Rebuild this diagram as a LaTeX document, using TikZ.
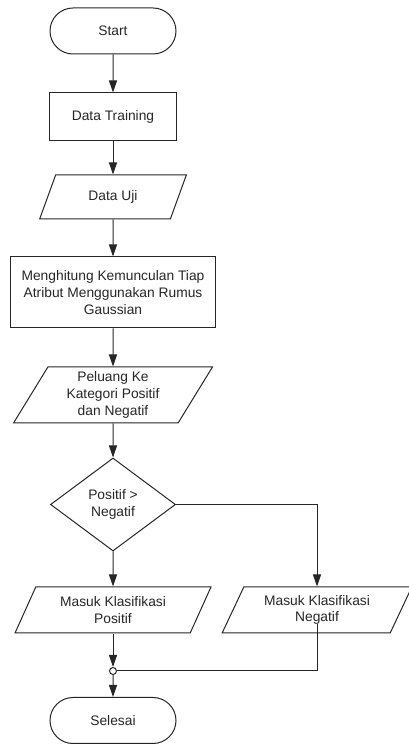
\documentclass[tikz,border=0pt]{standalone}
\usepackage{fontspec}
\setmainfont{Liberation Sans}
\usetikzlibrary{positioning,shapes.geometric,shapes.misc,arrows.meta}

\begin{document}
\begin{tikzpicture}[x=1pt,y=1pt,
    font=\fontsize{13.8}{16.6}\selectfont,
    terminal/.style={rounded rectangle,draw=black!85,line width=1pt,minimum width=126pt,minimum height=46pt,inner sep=0pt},
    proses/.style={rectangle,draw=black!85,line width=1pt,minimum height=48pt,inner sep=0pt,align=center},
    data/.style={trapezium,trapezium left angle=62,trapezium right angle=118,trapezium stretches=true,draw=black!85,line width=1pt,inner sep=0pt,align=center},
    keputusan/.style={diamond,aspect=1.34,draw=black!85,line width=1pt,inner sep=0pt,align=center,minimum width=125pt,minimum height=93pt}]
    \useasboundingbox (0,0) rectangle (409,745);
    \begin{scope}[text=black!85]
        \node[terminal] (start) at (113,714) {Start};
        \node[proses,minimum width=127pt] (train) at (113,628) {Data Training};
        \node[data,minimum width=147pt,minimum height=44pt] (uji) at (113,548) {Data Uji};
        \node[proses,minimum width=205pt,minimum height=71pt] (hitung) at (113,452.5) {Menghitung Kemunculan Tiap\\Atribut Menggunakan Rumus\\Gaussian};
        \node[data,minimum width=199pt,minimum height=56pt] (peluang) at (113,350) {Peluang Ke\\Kategori Positif\\dan Negatif};
        \node[keputusan] (cek) at (113,240.5) {Positif >\\Negatif};
        \node[data,minimum width=196pt,minimum height=46pt] (pos) at (113,135) {Masuk Klasifikasi\\Positif};
        \node[data,minimum width=190pt,minimum height=46pt] (neg) at (317,135) {Masuk Klasifikasi\\Negatif};
        \node[circle,draw=black!85,fill=white,line width=1pt,minimum size=7pt,inner sep=0pt] (gabung) at (113,74) {};
        \node[terminal] (selesai) at (113,24.5) {Selesai};
    \end{scope}

    \begin{scope}[>={Triangle[length=12pt,width=8pt]},
                  every edge/.style={draw=black!85,line width=1pt}]
        \path [->] (start) edge (train);
        \path [->] (train) edge (uji);
        \path [->] (uji) edge (hitung);
        \path [->] (hitung) edge (peluang);
        \path [->] (peluang) edge (cek);
        \path [->] (cek) edge (pos);
        \draw [->,draw=black!85,line width=1pt] (cek.east) -| (neg.north);
        \path [->] (pos) edge (gabung);
        \draw [draw=black!85,line width=1pt] ([yshift=10pt]neg.south) |- (gabung.east);
        \path [->] (gabung) edge (selesai);
    \end{scope}
\end{tikzpicture}
\end{document}
